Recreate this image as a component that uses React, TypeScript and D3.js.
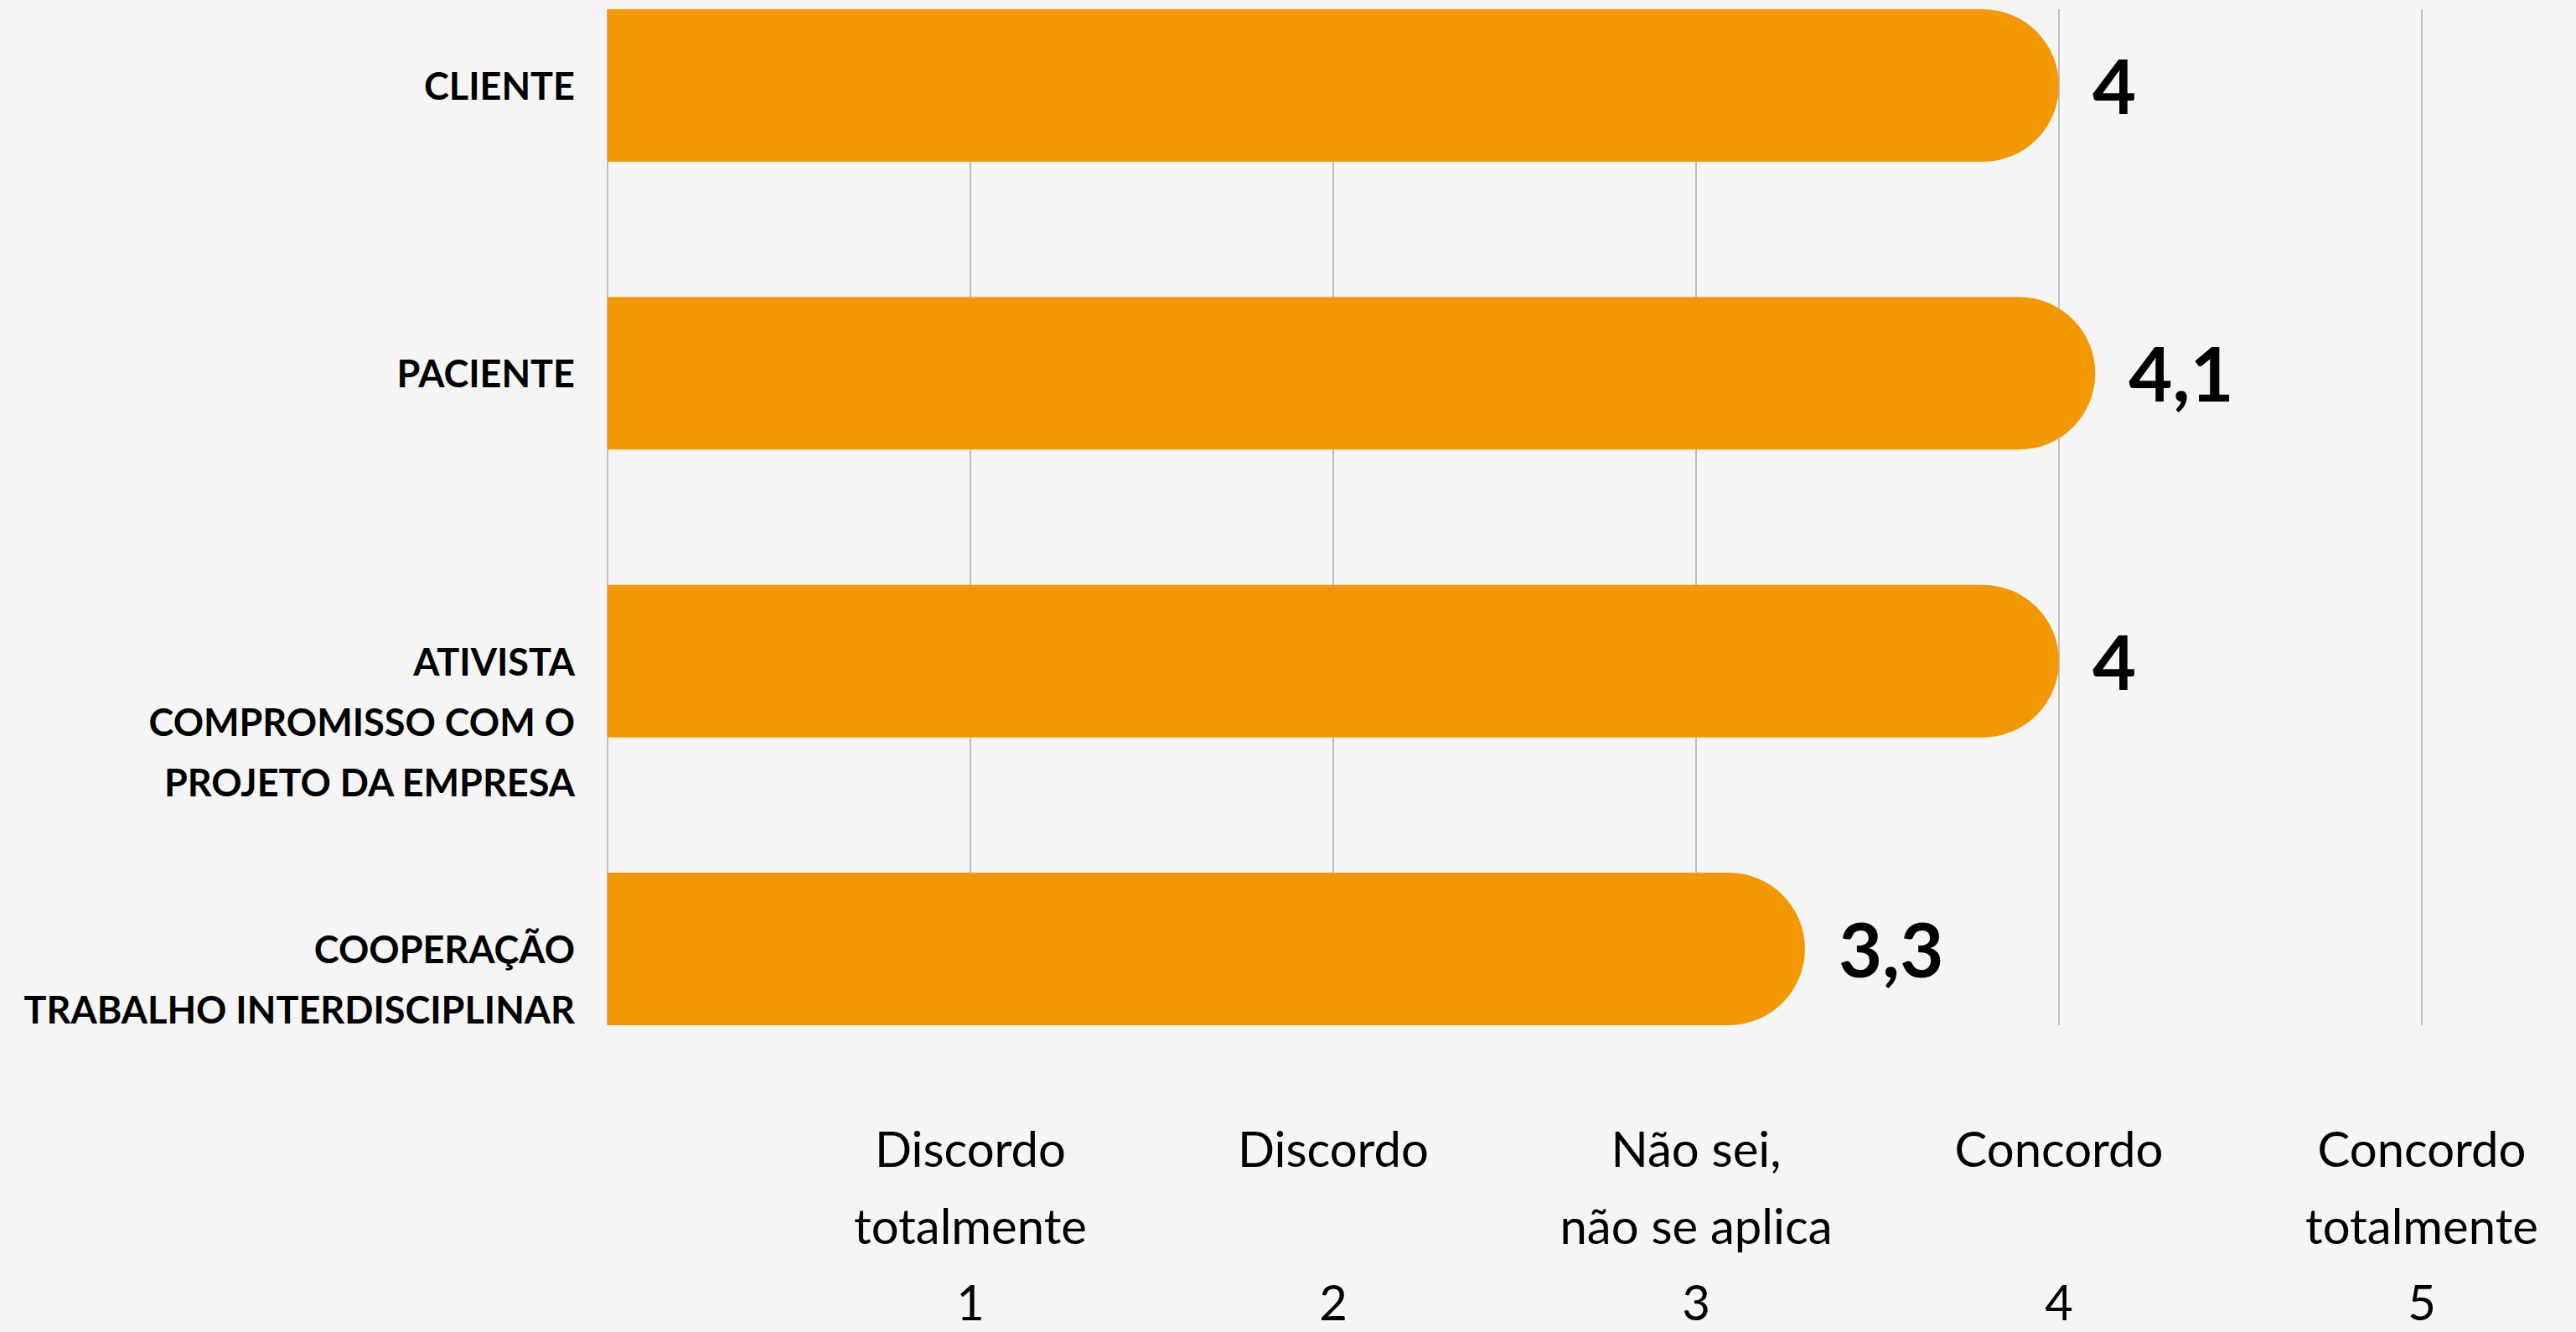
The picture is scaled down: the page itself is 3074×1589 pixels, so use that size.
import React from "react";
import * as d3 from "d3";

const categories = ["CLIENTE", "PACIENTE", "ATIVISTA", "COOPERAÇÃO"];
const categoryLabelLines = [
  ["CLIENTE"],
  ["PACIENTE"],
  ["ATIVISTA", "COMPROMISSO COM O", "PROJETO DA EMPRESA"],
  ["COOPERAÇÃO", "TRABALHO INTERDISCIPLINAR"],
];
const values = [4, 4.1, 4, 3.3];
const valueLabels = ["4", "4,1", "4", "3,3"];
const ticks = [1, 2, 3, 4, 5];
const tickLabelLines = [
  ["Discordo", "totalmente", "1"],
  ["Discordo", "", "2"],
  ["Não sei,", "não se aplica", "3"],
  ["Concordo", "", "4"],
  ["Concordo", "totalmente", "5"],
];

const W = 3074;
const H = 1589;
const BG = "#f5f5f5";
const BAR = "#f39800";
const GRID = "#bfbfbf";

export default function App() {
  const x = d3.scaleLinear().domain([0, 5]).range([725, 2890]);
  const y = d3
    .scaleBand<string>()
    .domain(categories)
    .range([11, 1223])
    .paddingInner(0.47)
    .paddingOuter(0);
  const bw = y.bandwidth();
  const r = bw / 2;

  const barPath = (v: number, cat: string) => {
    const y0 = y(cat) as number;
    const y1 = y0 + bw;
    const x0 = x(0);
    const xe = x(v);
    const p = d3.path();
    p.moveTo(x0, y0);
    p.lineTo(xe - r, y0);
    p.arc(xe - r, y0 + r, r, -Math.PI / 2, Math.PI / 2, false);
    p.lineTo(x0, y1);
    p.closePath();
    return p.toString();
  };

  const [yTop, yBot] = y.range();

  return (
    <div style={{ position: "absolute", left: 0, top: 0 }}>
      <svg width={W} height={H} style={{ display: "block" }}>
        <rect x={0} y={0} width={W} height={H} fill={BG} />
        {[0, ...ticks].map((t) => (
          <line
            key={"g" + t}
            x1={x(t)}
            x2={x(t)}
            y1={yTop}
            y2={yBot}
            stroke={GRID}
            strokeWidth={2}
          />
        ))}
        {categories.map((c, i) => (
          <path key={"b" + c} d={barPath(values[i], c)} fill={BAR} />
        ))}
        {categories.map((c, i) => (
          <text
            key={"v" + c}
            x={x(values[i]) + 40}
            y={(y(c) as number) + bw / 2 + 34}
            fontFamily="Lato, 'Open Sans', sans-serif"
            fontWeight={700}
            fontSize={90}
            fill="#000"
          >
            {valueLabels[i]}
          </text>
        ))}
        {categories.map((c, i) => (
          <text
            key={"c" + c}
            textAnchor="end"
            fontFamily="Lato, 'Open Sans', sans-serif"
            fontWeight={700}
            fontSize={45}
            fill="#000"
          >
            {categoryLabelLines[i].map((line, j) => (
              <tspan
                key={j}
                x={686}
                y={(y(c) as number) + bw / 2 + 17 + j * 72}
              >
                {line}
              </tspan>
            ))}
          </text>
        ))}
        {ticks.map((t, i) => (
          <text
            key={"t" + t}
            textAnchor="middle"
            fontFamily="Lato, 'Open Sans', sans-serif"
            fontSize={58}
            fill="#000"
          >
            {tickLabelLines[i].map((line, j) => (
              <tspan key={j} x={x(t)} y={1392 + j * 91.5}>
                {line}
              </tspan>
            ))}
          </text>
        ))}
      </svg>
    </div>
  );
}
